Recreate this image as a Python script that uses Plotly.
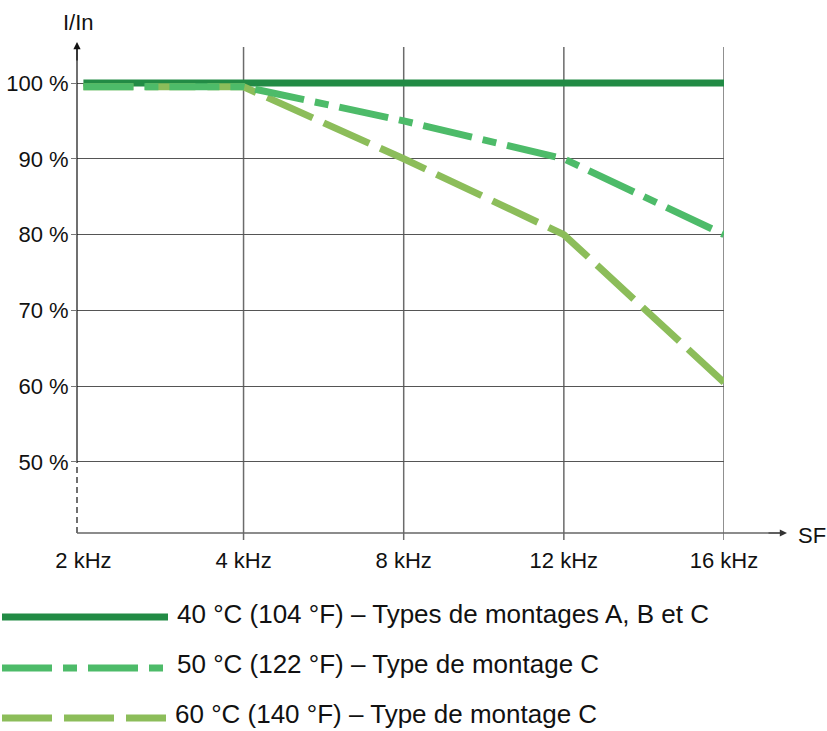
import plotly.graph_objects as go

# Switching frequency categories and derating curves (I/In in %)
freq_labels = ["2 kHz", "4 kHz", "8 kHz", "12 kHz", "16 kHz"]
curve_40c = [100, 100, 100, 100, 100]
curve_50c = [99.5, 99.5, 95, 90, 80]
curve_60c = [99.5, 99.5, 90, 80, 60.5]
y_ticks = [50, 60, 70, 80, 90, 100]
y_tick_text = ["50 %", "60 %", "70 %", "80 %", "90 %", "100 %"]

legend_texts = [
    "40 °C (104 °F) – Types de montages A, B et C",
    "50 °C (122 °F) – Type de montage C",
    "60 °C (140 °F) – Type de montage C",
]

C40 = "#228B45"
C50 = "#4DBB69"
C60 = "#8CBD5A"
DASH50 = "50px,11px,14px,11px"
DASH60 = "50px,12px"
FONT = "Liberation Sans, Arial, sans-serif"

W, H = 827, 731
L, R, T, B = 77, 724, 47, 533


def px_x(x):
    return (x - L) / (R - L)


def px_y(y):
    return (B - y) / (B - T)


xs = list(range(len(freq_labels)))

fig = go.Figure()
fig.add_trace(go.Scatter(x=xs, y=curve_40c, mode="lines",
                         line=dict(color=C40, width=7), hoverinfo="skip"))
fig.add_trace(go.Scatter(x=xs, y=curve_60c, mode="lines",
                         line=dict(color=C60, width=7, dash=DASH60), hoverinfo="skip"))
fig.add_trace(go.Scatter(x=xs, y=curve_50c, mode="lines",
                         line=dict(color=C50, width=7, dash=DASH50), hoverinfo="skip"))

shapes = []
# vertical grid lines at each frequency after the first, reaching slightly below the axis
for i in xs[1:]:
    shapes.append(dict(type="line", xref="x", yref="paper", x0=i, x1=i,
                       y0=px_y(540), y1=1, layer="below",
                       line=dict(color="#6b6b6b", width=1.5)))
# y axis: solid above 50 %, dashed below
shapes.append(dict(type="line", xref="paper", yref="y", x0=0, x1=0,
                   y0=50, y1=104.75, line=dict(color="#111", width=1.2)))
shapes.append(dict(type="line", xref="paper", yref="y", x0=0, x1=0,
                   y0=40.63, y1=50, line=dict(color="#111", width=1.2, dash="6px,4px")))
# x axis
shapes.append(dict(type="line", xref="paper", yref="paper", x0=0, x1=px_x(780),
                   y0=0, y1=0, line=dict(color="#666", width=1.5)))

# legend samples
legend_rows = [
    (617, 168, C40, "solid"),
    (668, 163, C50, DASH50),
    (718, 166, C60, DASH60),
]
for y, xe, col, dash in legend_rows:
    shapes.append(dict(type="line", xref="paper", yref="paper",
                       x0=px_x(2), x1=px_x(xe), y0=px_y(y), y1=px_y(y),
                       line=dict(color=col, width=7, dash=dash)))

annotations = [
    # axis arrows
    dict(xref="paper", yref="paper", x=0, y=px_y(42), ax=0, ay=20,
         showarrow=True, arrowhead=2, arrowsize=1.2, arrowwidth=1.2,
         arrowcolor="#111", text=""),
    dict(xref="paper", yref="paper", x=px_x(787), y=0, ax=-20, ay=0,
         showarrow=True, arrowhead=2, arrowsize=1.2, arrowwidth=1.2,
         arrowcolor="#333", text=""),
    dict(xref="paper", yref="paper", x=px_x(78), y=px_y(22), text="I/In",
         showarrow=False, xanchor="center", yanchor="middle",
         font=dict(size=22, color="#111", family=FONT)),
    dict(xref="paper", yref="paper", x=px_x(796), y=px_y(535), text="SF",
         showarrow=False, xanchor="left", yanchor="middle",
         font=dict(size=22, color="#111", family=FONT)),
]
legend_y = [614, 664, 714]
legend_x = [175, 175, 173]
for txt, yy, xx in zip(legend_texts, legend_y, legend_x):
    annotations.append(dict(xref="paper", yref="paper", x=px_x(xx), y=px_y(yy),
                            text=txt, showarrow=False, xanchor="left",
                            yanchor="middle",
                            font=dict(size=26, color="#111", family=FONT)))

fig.update_layout(
    width=W, height=H,
    margin=dict(l=L, r=W - R, t=T, b=H - B, pad=0, autoexpand=False),
    paper_bgcolor="white", plot_bgcolor="white",
    showlegend=False,
    font=dict(family=FONT, color="#111"),
    shapes=shapes,
    annotations=annotations,
    xaxis=dict(range=[-0.04, 4.0], tickvals=xs, ticktext=freq_labels,
               showgrid=False, zeroline=False, showline=False, ticks="",
               automargin=False,
               ticklabelstandoff=12, tickfont=dict(size=22, family=FONT, color="#111"),
               fixedrange=True),
    yaxis=dict(range=[40.63, 104.75], tickvals=y_ticks, ticktext=y_tick_text,
               showgrid=True, gridcolor="#555", gridwidth=1.2,
               zeroline=False, showline=False, ticks="outside", ticklen=5,
               tickcolor="#777", tickwidth=1.2, automargin=False,
               ticklabelstandoff=-2,
               tickfont=dict(size=22, family=FONT, color="#111"),
               fixedrange=True),
)

fig.write_html("out.html", config={"displayModeBar": False})
